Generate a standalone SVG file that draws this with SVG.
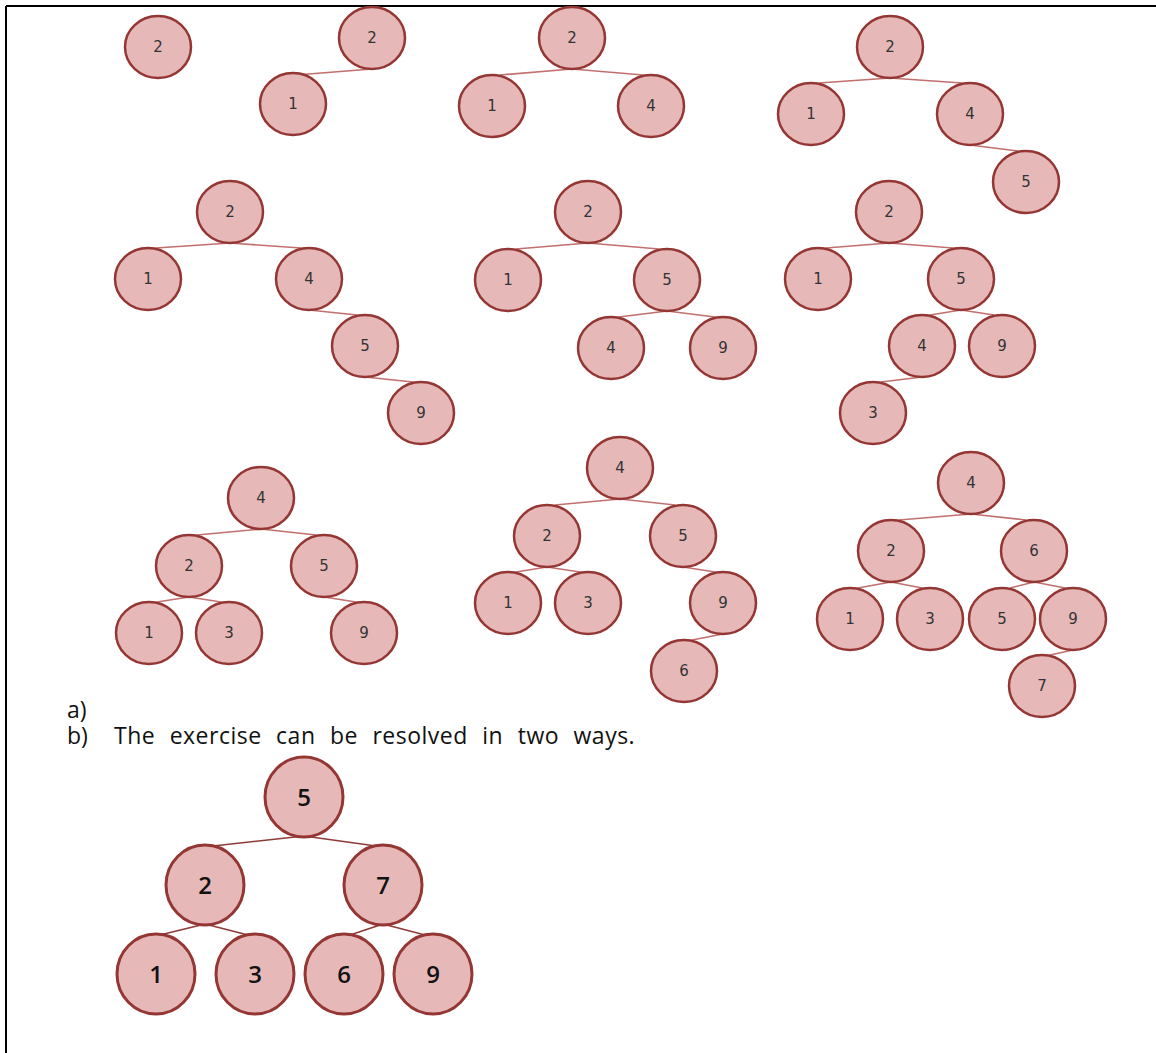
<svg xmlns="http://www.w3.org/2000/svg" width="1156" height="1053" viewBox="0 0 1156 1053">
<style>
.n ellipse{fill:#e6b9b8;stroke:#943634;stroke-width:2.5}
.n text{font-family:"DejaVu Sans",sans-serif;font-size:15px;fill:#333;text-anchor:middle}
.b ellipse{fill:#e6b9b8;stroke:#943634;stroke-width:3}
.b text{font-family:"Open Sans","Liberation Sans",sans-serif;font-size:24px;font-weight:600;fill:#111;text-anchor:middle}
.e line{stroke:#c0706e;stroke-width:1.6}
.e2 line{stroke:#8e3a38;stroke-width:1.6}
.t{font-family:"Open Sans","Liberation Sans",sans-serif;font-size:23px;fill:#111}
</style>
<rect width="1156" height="1053" fill="#fff"/>
<g id="border" stroke="#000" stroke-width="2">
<line x1="6" y1="6" x2="1156" y2="6"/>
<line x1="6" y1="6" x2="6" y2="1053"/>
</g>
<g id="connectors">
<g class="e">
<line x1="372" y1="69" x2="296" y2="75"/>
<line x1="572" y1="69" x2="500" y2="75"/><line x1="572" y1="69" x2="643" y2="75"/>
<line x1="890" y1="78" x2="819" y2="83"/><line x1="890" y1="78" x2="962" y2="83"/><line x1="970" y1="145" x2="1018" y2="151"/>
<line x1="230" y1="243" x2="156" y2="248"/><line x1="230" y1="243" x2="301" y2="248"/><line x1="309" y1="310" x2="357" y2="315"/><line x1="365" y1="377" x2="413" y2="382"/>
<line x1="588" y1="243" x2="516" y2="249"/><line x1="588" y1="243" x2="659" y2="249"/><line x1="667" y1="311" x2="619" y2="317"/><line x1="667" y1="311" x2="715" y2="317"/>
<line x1="889" y1="243" x2="826" y2="248"/><line x1="889" y1="243" x2="953" y2="248"/><line x1="961" y1="310" x2="930" y2="315"/><line x1="961" y1="310" x2="994" y2="315"/><line x1="922" y1="377" x2="881" y2="382"/>
<line x1="261" y1="529" x2="197" y2="535"/><line x1="261" y1="529" x2="316" y2="535"/><line x1="189" y1="597" x2="157" y2="602"/><line x1="189" y1="597" x2="221" y2="602"/><line x1="324" y1="597" x2="356" y2="602"/>
<line x1="620" y1="499" x2="555" y2="505"/><line x1="620" y1="499" x2="675" y2="505"/><line x1="547" y1="567" x2="516" y2="572"/><line x1="547" y1="567" x2="580" y2="572"/><line x1="683" y1="567" x2="715" y2="572"/><line x1="723" y1="634" x2="692" y2="640"/>
<line x1="971" y1="514" x2="899" y2="520"/><line x1="971" y1="514" x2="1026" y2="520"/><line x1="891" y1="582" x2="858" y2="588"/><line x1="891" y1="582" x2="922" y2="588"/><line x1="1034" y1="582" x2="1010" y2="588"/><line x1="1034" y1="582" x2="1065" y2="588"/><line x1="1073" y1="650" x2="1050" y2="655"/>
</g>
<g class="e2">
<line x1="304" y1="836" x2="213" y2="846"/><line x1="304" y1="836" x2="376" y2="846"/><line x1="205" y1="924" x2="160" y2="935"/><line x1="205" y1="924" x2="248" y2="935"/><line x1="383" y1="924" x2="350" y2="935"/><line x1="383" y1="924" x2="425" y2="935"/>
</g>
</g>
<g id="trees" class="n">
<g id="t1n2"><ellipse cx="158" cy="47" rx="33" ry="31"/><text x="158" y="52">2</text></g>
<g id="t2n2"><ellipse cx="372" cy="38" rx="33" ry="31"/><text x="372" y="43">2</text></g>
<g id="t2n1"><ellipse cx="293" cy="104" rx="33" ry="31"/><text x="293" y="109">1</text></g>
<g id="t3n2"><ellipse cx="572" cy="38" rx="33" ry="31"/><text x="572" y="43">2</text></g>
<g id="t3n1"><ellipse cx="492" cy="106" rx="33" ry="31"/><text x="492" y="111">1</text></g>
<g id="t3n4"><ellipse cx="651" cy="106" rx="33" ry="31"/><text x="651" y="111">4</text></g>
<g id="t4n2"><ellipse cx="890" cy="47" rx="33" ry="31"/><text x="890" y="52">2</text></g>
<g id="t4n1"><ellipse cx="811" cy="114" rx="33" ry="31"/><text x="811" y="119">1</text></g>
<g id="t4n4"><ellipse cx="970" cy="114" rx="33" ry="31"/><text x="970" y="119">4</text></g>
<g id="t4n5"><ellipse cx="1026" cy="182" rx="33" ry="31"/><text x="1026" y="187">5</text></g>
<g id="t5n2"><ellipse cx="230" cy="212" rx="33" ry="31"/><text x="230" y="217">2</text></g>
<g id="t5n1"><ellipse cx="148" cy="279" rx="33" ry="31"/><text x="148" y="284">1</text></g>
<g id="t5n4"><ellipse cx="309" cy="279" rx="33" ry="31"/><text x="309" y="284">4</text></g>
<g id="t5n5"><ellipse cx="365" cy="346" rx="33" ry="31"/><text x="365" y="351">5</text></g>
<g id="t5n9"><ellipse cx="421" cy="413" rx="33" ry="31"/><text x="421" y="418">9</text></g>
<g id="t6n2"><ellipse cx="588" cy="212" rx="33" ry="31"/><text x="588" y="217">2</text></g>
<g id="t6n1"><ellipse cx="508" cy="280" rx="33" ry="31"/><text x="508" y="285">1</text></g>
<g id="t6n5"><ellipse cx="667" cy="280" rx="33" ry="31"/><text x="667" y="285">5</text></g>
<g id="t6n4"><ellipse cx="611" cy="348" rx="33" ry="31"/><text x="611" y="353">4</text></g>
<g id="t6n9"><ellipse cx="723" cy="348" rx="33" ry="31"/><text x="723" y="353">9</text></g>
<g id="t7n2"><ellipse cx="889" cy="212" rx="33" ry="31"/><text x="889" y="217">2</text></g>
<g id="t7n1"><ellipse cx="818" cy="279" rx="33" ry="31"/><text x="818" y="284">1</text></g>
<g id="t7n5"><ellipse cx="961" cy="279" rx="33" ry="31"/><text x="961" y="284">5</text></g>
<g id="t7n4"><ellipse cx="922" cy="346" rx="33" ry="31"/><text x="922" y="351">4</text></g>
<g id="t7n9"><ellipse cx="1002" cy="346" rx="33" ry="31"/><text x="1002" y="351">9</text></g>
<g id="t7n3"><ellipse cx="873" cy="413" rx="33" ry="31"/><text x="873" y="418">3</text></g>
<g id="t8n4"><ellipse cx="261" cy="498" rx="33" ry="31"/><text x="261" y="503">4</text></g>
<g id="t8n2"><ellipse cx="189" cy="566" rx="33" ry="31"/><text x="189" y="571">2</text></g>
<g id="t8n5"><ellipse cx="324" cy="566" rx="33" ry="31"/><text x="324" y="571">5</text></g>
<g id="t8n1"><ellipse cx="149" cy="633" rx="33" ry="31"/><text x="149" y="638">1</text></g>
<g id="t8n3"><ellipse cx="229" cy="633" rx="33" ry="31"/><text x="229" y="638">3</text></g>
<g id="t8n9"><ellipse cx="364" cy="633" rx="33" ry="31"/><text x="364" y="638">9</text></g>
<g id="t9n4"><ellipse cx="620" cy="468" rx="33" ry="31"/><text x="620" y="473">4</text></g>
<g id="t9n2"><ellipse cx="547" cy="536" rx="33" ry="31"/><text x="547" y="541">2</text></g>
<g id="t9n5"><ellipse cx="683" cy="536" rx="33" ry="31"/><text x="683" y="541">5</text></g>
<g id="t9n1"><ellipse cx="508" cy="603" rx="33" ry="31"/><text x="508" y="608">1</text></g>
<g id="t9n3"><ellipse cx="588" cy="603" rx="33" ry="31"/><text x="588" y="608">3</text></g>
<g id="t9n9"><ellipse cx="723" cy="603" rx="33" ry="31"/><text x="723" y="608">9</text></g>
<g id="t9n6"><ellipse cx="684" cy="671" rx="33" ry="31"/><text x="684" y="676">6</text></g>
<g id="t10n4"><ellipse cx="971" cy="483" rx="33" ry="31"/><text x="971" y="488">4</text></g>
<g id="t10n2"><ellipse cx="891" cy="551" rx="33" ry="31"/><text x="891" y="556">2</text></g>
<g id="t10n6"><ellipse cx="1034" cy="551" rx="33" ry="31"/><text x="1034" y="556">6</text></g>
<g id="t10n1"><ellipse cx="850" cy="619" rx="33" ry="31"/><text x="850" y="624">1</text></g>
<g id="t10n3"><ellipse cx="930" cy="619" rx="33" ry="31"/><text x="930" y="624">3</text></g>
<g id="t10n5"><ellipse cx="1002" cy="619" rx="33" ry="31"/><text x="1002" y="624">5</text></g>
<g id="t10n9"><ellipse cx="1073" cy="619" rx="33" ry="31"/><text x="1073" y="624">9</text></g>
<g id="t10n7"><ellipse cx="1042" cy="686" rx="33" ry="31"/><text x="1042" y="691">7</text></g>
</g>
<g id="labels">
<text class="t" x="67" y="718">a)</text>
<text class="t" x="67" y="744">b)</text>
<text class="t" x="114" y="744" word-spacing="8" letter-spacing="0.5">The exercise can be resolved in two ways.</text>
</g>
<g id="answer" class="b">
<g id="bn5"><ellipse cx="304" cy="797" rx="39" ry="40"/><text x="304" y="806">5</text></g>
<g id="bn2"><ellipse cx="205" cy="885" rx="39" ry="40"/><text x="205" y="894">2</text></g>
<g id="bn7"><ellipse cx="383" cy="885" rx="39" ry="40"/><text x="383" y="894">7</text></g>
<g id="bn1"><ellipse cx="156" cy="974" rx="39" ry="40"/><text x="156" y="983">1</text></g>
<g id="bn3"><ellipse cx="255" cy="974" rx="39" ry="40"/><text x="255" y="983">3</text></g>
<g id="bn6"><ellipse cx="344" cy="974" rx="39" ry="40"/><text x="344" y="983">6</text></g>
<g id="bn9"><ellipse cx="433" cy="974" rx="39" ry="40"/><text x="433" y="983">9</text></g>
</g>
</svg>
